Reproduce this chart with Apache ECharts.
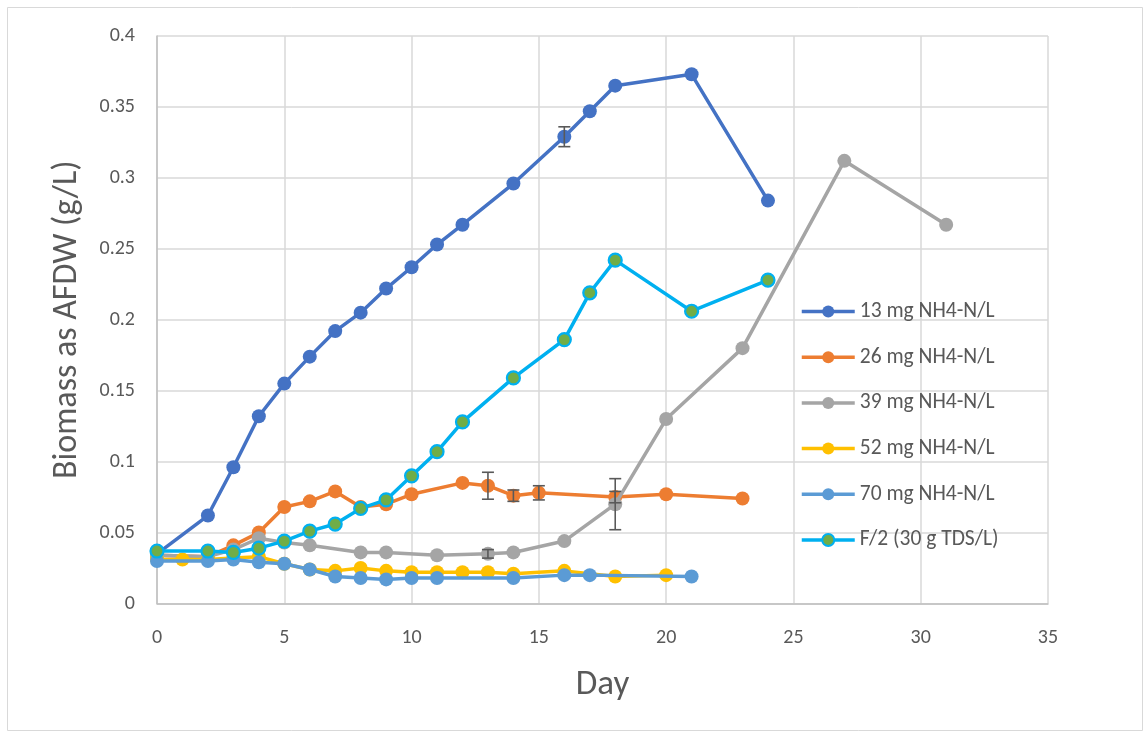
<!DOCTYPE html>
<html>
<head>
<meta charset="utf-8">
<script src="https://cdn.jsdelivr.net/npm/echarts@6/dist/echarts.min.js"></script>
<style>
html,body{margin:0;padding:0;background:#fff;}
#chart{width:1146px;height:736px;}
</style>
</head>
<body>
<div id="chart"></div>
<script>
// ---- data ----
const names = ['13 mg NH4-N/L','26 mg NH4-N/L','39 mg NH4-N/L','52 mg NH4-N/L','70 mg NH4-N/L','F/2 (30 g TDS/L)'];

const days13 = [0,2,3,4,5,6,7,8,9,10,11,12,14,16,17,18,21,24];
const vals13 = [0.035,0.062,0.096,0.132,0.155,0.174,0.192,0.205,0.222,0.237,0.253,0.267,0.296,0.329,0.347,0.365,0.373,0.284];

const days26 = [0,2,3,4,5,6,7,8,9,10,12,13,14,15,18,20,23];
const vals26 = [0.034,0.033,0.041,0.050,0.068,0.072,0.079,0.068,0.070,0.077,0.085,0.083,0.076,0.078,0.075,0.077,0.074];

const days39 = [0,2,3,4,5,6,8,9,11,13,14,16,18,20,23,27,31];
const vals39 = [0.034,0.033,0.038,0.046,0.043,0.041,0.036,0.036,0.034,0.035,0.036,0.044,0.070,0.130,0.180,0.312,0.267];

const days52 = [0,1,2,3,4,5,6,7,8,9,10,11,12,13,14,16,18,20];
const vals52 = [0.031,0.031,0.031,0.032,0.033,0.028,0.024,0.023,0.025,0.023,0.022,0.022,0.022,0.022,0.021,0.023,0.019,0.020];

const days70 = [0,2,3,4,5,6,7,8,9,10,11,14,16,17,21];
const vals70 = [0.030,0.030,0.031,0.029,0.028,0.024,0.019,0.018,0.017,0.018,0.018,0.018,0.020,0.020,0.019];

const daysF2 = [0,2,3,4,5,6,7,8,9,10,11,12,14,16,17,18,21,24];
const valsF2 = [0.037,0.037,0.036,0.039,0.044,0.051,0.056,0.067,0.073,0.090,0.107,0.128,0.159,0.186,0.219,0.242,0.206,0.228];

// error bars: day, mean, +/- error
const errDays = [16, 13, 14, 15, 18, 13, 18];
const errVals = [0.329, 0.083, 0.076, 0.078, 0.075, 0.035, 0.070];
const errSize = [0.007, 0.0095, 0.004, 0.005, 0.004, 0.003, 0.018];

const xTicks = [0,5,10,15,20,25,30,35];
const yTicks = [0,0.05,0.1,0.15,0.2,0.25,0.3,0.35,0.4];

// ---- build ----
const zip = (d, v) => d.map((x, i) => [x, v[i]]);
const colors = ['#4472c4','#ed7d31','#a5a5a5','#ffc000','#5b9bd5','#00b0f0'];
const FONT = 'Carlito, Lato, "Liberation Sans", sans-serif';
const TXT = '#595959';

const sets = [[days13,vals13],[days26,vals26],[days39,vals39],[days52,vals52],[days70,vals70],[daysF2,valsF2]];
const series = sets.map((s, i) => {
  const isF2 = i === 5;
  return {
    name: names[i],
    type: 'line',
    data: zip(s[0], s[1]),
    symbol: 'circle',
    symbolSize: isF2 ? 13 : 14,
    showSymbol: true,
    lineStyle: { color: colors[i], width: 3.5 },
    itemStyle: isF2 ? { color: '#70ad47', borderColor: '#00b0f0', borderWidth: 2.2 } : { color: colors[i], borderWidth: 0 },
    emphasis: { disabled: true },
    animation: false,
    z: 2 + i
  };
});

series.push({
  type: 'custom',
  name: 'err',
  data: errDays.map((d, i) => [d, errVals[i], errSize[i]]),
  encode: { x: 0, y: 1 },
  z: 20,
  animation: false,
  renderItem: function (params, api) {
    const x = api.value(0), y = api.value(1), e = api.value(2);
    const top = api.coord([x, y + e]);
    const bot = api.coord([x, y - e]);
    const hw = 6;
    const st = { stroke: '#595959', lineWidth: 1.6 };
    return {
      type: 'group',
      children: [
        { type: 'line', shape: { x1: top[0], y1: top[1], x2: bot[0], y2: bot[1] }, style: st },
        { type: 'line', shape: { x1: top[0]-hw, y1: top[1], x2: top[0]+hw, y2: top[1] }, style: st },
        { type: 'line', shape: { x1: bot[0]-hw, y1: bot[1], x2: bot[0]+hw, y2: bot[1] }, style: st }
      ]
    };
  }
});

const chart = echarts.init(document.getElementById('chart'), null, { renderer: 'canvas' });
chart.setOption({
  backgroundColor: '#fff',
  animation: false,
  textStyle: { fontFamily: FONT },
  graphic: [{
    type: 'rect', left: 5, top: 5, shape: { width: 1135, height: 723 },
    style: { fill: 'none', stroke: '#d9d9d9', lineWidth: 1 }, silent: true, z: -10
  }],
  grid: { left: 157, right: 98, top: 36, bottom: 132.5, containLabel: false },
  legend: {
    data: names,
    orient: 'vertical',
    left: 800,
    top: 300.5,
    padding: 0,
    itemWidth: 53,
    itemHeight: 15,
    itemGap: 23.7,
    lineStyle: { width: 3.5 },
    textStyle: { fontFamily: FONT, fontSize: 21.5, color: TXT, lineHeight: 21, padding: [0, 0, 0, 0] },
    selectedMode: false
  },
  xAxis: {
    type: 'value',
    min: xTicks[0], max: xTicks[xTicks.length - 1], interval: 5,
    name: 'Day',
    nameLocation: 'middle',
    nameGap: 64,
    nameTextStyle: { fontFamily: FONT, fontSize: 35, color: TXT },
    axisLine: { show: true, lineStyle: { color: '#bfbfbf', width: 1.5 } },
    axisTick: { show: false },
    axisLabel: { fontFamily: FONT, fontSize: 20, color: TXT, margin: 24 },
    splitLine: { show: true, lineStyle: { color: '#d9d9d9', width: 1.5 } }
  },
  yAxis: {
    type: 'value',
    min: yTicks[0], max: yTicks[yTicks.length - 1], interval: 0.05,
    name: 'Biomass as AFDW (g/L)',
    nameLocation: 'middle',
    nameGap: 73,
    nameRotate: 90,
    nameTextStyle: { fontFamily: FONT, fontSize: 34, color: TXT },
    axisLine: { show: true, lineStyle: { color: '#bfbfbf', width: 1.5 } },
    axisTick: { show: false },
    axisLabel: { fontFamily: FONT, fontSize: 20, color: TXT, margin: 22, formatter: v => String(+v.toFixed(2)) },
    splitLine: { show: true, lineStyle: { color: '#d9d9d9', width: 1.5 } }
  },
  series: series
});
</script>
</body>
</html>
